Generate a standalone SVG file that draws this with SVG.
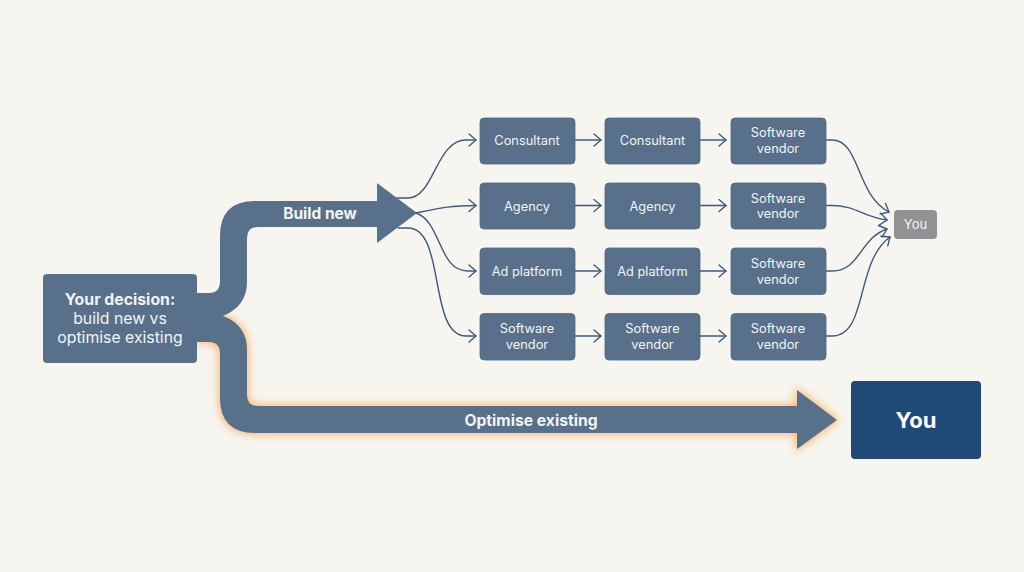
<svg xmlns="http://www.w3.org/2000/svg" width="1024" height="572" viewBox="0 0 1024 572">
<style>
text{font-family:"Inter","Liberation Sans",sans-serif;fill:#f2f4f6;text-anchor:middle}
.n{fill:#587089;stroke:#4f6987;stroke-width:.8}
.t{font-size:12.800px}
.c{fill:none;stroke:#3f5a7c;stroke-width:1.400;stroke-linecap:round;stroke-linejoin:round}
.b{font-weight:700}
</style>
<defs>
<filter id="glow" x="-10%" y="-20%" width="120%" height="140%"><feGaussianBlur stdDeviation="4"/></filter>
<marker id="ch" viewBox="0 0 12 14" refX="10" refY="7" markerWidth="12" markerHeight="14" markerUnits="userSpaceOnUse" orient="auto"><path d="M3 1L10 7L3 13" fill="none" stroke="#3f5a7c" stroke-width="1.400" stroke-linecap="round" stroke-linejoin="round"/></marker>
</defs>
<rect width="1024" height="572" fill="#f7f5f0"/>
<g id="connectors">
<path d="M197 342H209Q220 342 220 354V398Q220 433 255 433H797V449L837 420L797 390V406H258Q247 406 247 395V350Q247 325 223 316Z" fill="#f9b671" stroke="#f9b671" stroke-width="3" filter="url(#glow)"/>
<path id="arrow-build-optimise" d="M197 293H209Q220 293 220 281V236Q220 201 255 201H377V183L417 213L377 243V227H258Q247 227 247 238V282Q247 306 223 316Q247 325 247 350V395Q247 406 258 406H797V390L837 420L797 449V433H255Q220 433 220 398V354Q220 342 209 342H197Z" fill="#587089"/>
<g class="c">
<path d="M397 198H408C434 198 436 140 466 140H476" marker-end="url(#ch)"/>
<path d="M416 213C440 208 450 205.500 476 205.500" marker-end="url(#ch)"/>
<path d="M416 213C442 222 438 271 468 271H476" marker-end="url(#ch)"/>
<path d="M398 228H408C446 228 428 336 466 336H476" marker-end="url(#ch)"/>
<path d="M575 140H601" marker-end="url(#ch)"/><path d="M575 205.500H601" marker-end="url(#ch)"/><path d="M575 271H601" marker-end="url(#ch)"/><path d="M575 336H601" marker-end="url(#ch)"/>
<path d="M700 140H726" marker-end="url(#ch)"/><path d="M700 205.500H726" marker-end="url(#ch)"/><path d="M700 271H726" marker-end="url(#ch)"/><path d="M700 336H726" marker-end="url(#ch)"/>
<path d="M826 140H832C860 140 856 195 889 212" marker-end="url(#ch)"/>
<path d="M826 205.500H832C855 205.500 864 217 887 220" marker-end="url(#ch)"/>
<path d="M826 271H832C860 271 860 238 887 229" marker-end="url(#ch)"/>
<path d="M826 336H832C868 336 855 262 890 237" marker-end="url(#ch)"/>
</g>
</g>
<g id="decision"><rect x="43" y="274" width="154" height="89" rx="4" fill="#587089"/>
<text x="120" y="305" font-size="15.800" class="b">Your decision:</text><text x="120" y="324" font-size="15.800">build new vs</text><text x="120" y="343" font-size="15.800">optimise existing</text></g>
<g id="label-build"><text x="320" y="219" font-size="15.500" class="b">Build new</text></g>
<g id="label-optimise"><text x="531" y="425.500" font-size="15.700" class="b">Optimise existing</text></g>
<g id="n11"><rect class="n" x="480" y="118" width="95" height="46" rx="4"/><text class="t" x="527" y="145">Consultant</text></g>
<g id="n12"><rect class="n" x="605" y="118" width="95" height="46" rx="4"/><text class="t" x="652.500" y="145">Consultant</text></g>
<g id="n13"><rect class="n" x="731" y="118" width="95" height="46" rx="4"/><text class="t" x="778" y="137">Software</text><text class="t" x="778" y="152.500">vendor</text></g>
<g id="n21"><rect class="n" x="480" y="183" width="95" height="46" rx="4"/><text class="t" x="527" y="210.500">Agency</text></g>
<g id="n22"><rect class="n" x="605" y="183" width="95" height="46" rx="4"/><text class="t" x="652.500" y="210.500">Agency</text></g>
<g id="n23"><rect class="n" x="731" y="183" width="95" height="46" rx="4"/><text class="t" x="778" y="202.500">Software</text><text class="t" x="778" y="218">vendor</text></g>
<g id="n31"><rect class="n" x="480" y="248" width="95" height="46.500" rx="4"/><text class="t" x="527" y="276">Ad platform</text></g>
<g id="n32"><rect class="n" x="605" y="248" width="95" height="46.500" rx="4"/><text class="t" x="652.500" y="276">Ad platform</text></g>
<g id="n33"><rect class="n" x="731" y="248" width="95" height="46.500" rx="4"/><text class="t" x="778" y="268">Software</text><text class="t" x="778" y="283.500">vendor</text></g>
<g id="n41"><rect class="n" x="480" y="313.500" width="95" height="46.500" rx="4"/><text class="t" x="527" y="333">Software</text><text class="t" x="527" y="349">vendor</text></g>
<g id="n42"><rect class="n" x="605" y="313.500" width="95" height="46.500" rx="4"/><text class="t" x="652.500" y="333">Software</text><text class="t" x="652.500" y="349">vendor</text></g>
<g id="n43"><rect class="n" x="731" y="313.500" width="95" height="46.500" rx="4"/><text class="t" x="778" y="333">Software</text><text class="t" x="778" y="349">vendor</text></g>
<g id="you-small"><rect x="894" y="210" width="43" height="29" rx="4" fill="#929292"/><text x="915.500" y="229" font-size="13">You</text></g>
<g id="you-big"><rect x="851" y="381" width="130" height="78" rx="4" fill="#1f4a78"/><text x="916" y="428" font-size="22" font-weight="700" style="fill:#fff">You</text></g>
</svg>
